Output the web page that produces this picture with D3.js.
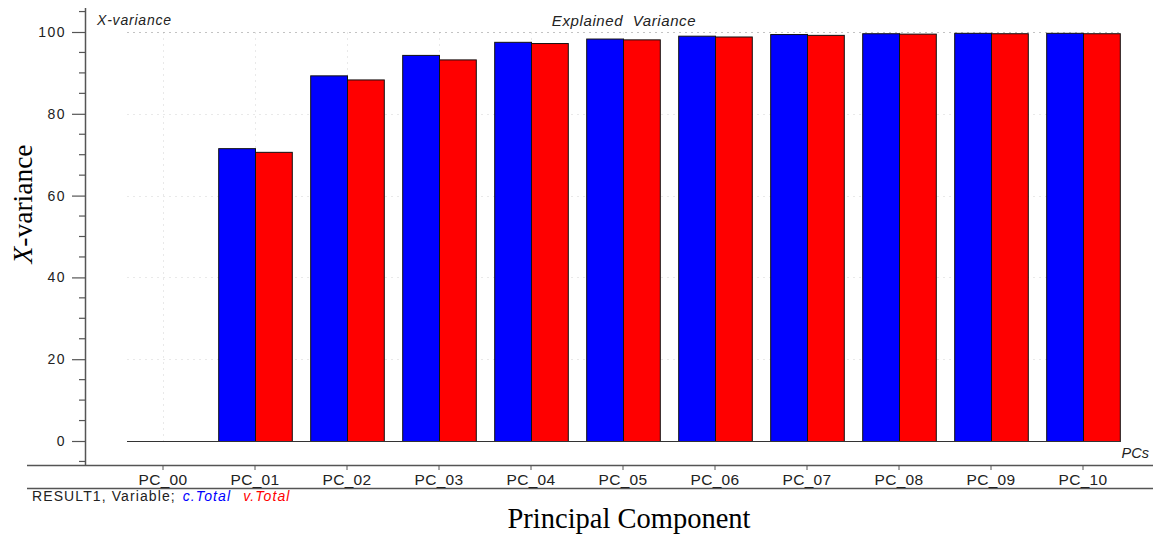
<!DOCTYPE html>
<html>
<head>
<meta charset="utf-8">
<script src="https://cdn.jsdelivr.net/npm/d3@7"></script>
<style>
  html, body { margin: 0; padding: 0; background: #fff; }
  svg { display: block; }
  text { white-space: pre; }
</style>
</head>
<body>
<svg id="chart" width="1153" height="537"></svg>
<script>
// Cumulative explained X-variance (%) per principal component
const categories = ["PC_00", "PC_01", "PC_02", "PC_03", "PC_04", "PC_05",
                    "PC_06", "PC_07", "PC_08", "PC_09", "PC_10"];
const seriesNames = ["c.Total", "v.Total"];
const calTotal = [0, 71.6, 89.4, 94.4, 97.6, 98.4, 99.1, 99.5, 99.7, 99.8, 99.8];
const valTotal = [0, 70.7, 88.4, 93.3, 97.3, 98.2, 98.9, 99.3, 99.6, 99.7, 99.7];
const yTicks = [0, 20, 40, 60, 80, 100];
const yMinorTicks = [-5, 5, 10, 15, 25, 30, 35, 45, 50, 55, 65, 70, 75, 85, 90, 95, 105];

const colors = { "c.Total": "#0000ff", "v.Total": "#ff0000" };
const sans = "'Liberation Sans', Arial, sans-serif";
const serif = "'Liberation Serif', 'Times New Roman', serif";

const svg = d3.select("#chart");

const x = d3.scaleBand().domain(categories).range([117, 1129])
  .paddingInner(0.2).paddingOuter(0.1);
const xs = d3.scaleBand().domain(seriesNames).range([0, x.bandwidth()]);
const y = d3.scaleLinear().domain([0, 100]).range([441, 32]);

const rows = categories.map((c, i) => ({ cat: c, vals: [
  { key: "c.Total", v: calTotal[i] }, { key: "v.Total", v: valTotal[i] }] }));

// faint dotted grid
const grid = svg.append("g").attr("stroke", "#aaa").attr("stroke-dasharray", "2,4")
  .attr("stroke-width", 1);
grid.selectAll("line.h").data(yTicks.filter(d => d > 0)).join("line")
  .attr("x1", x.range()[0] + 10).attr("x2", x.range()[1] - 10)
  .attr("y1", d => Math.round(y(d)) + 0.5).attr("y2", d => Math.round(y(d)) + 0.5)
  .attr("opacity", d => d === 100 ? 0.7 : 0.25);
grid.selectAll("line.v").data(categories).join("line")
  .attr("x1", d => Math.round(x(d) + x.bandwidth() / 2) + 0.5)
  .attr("x2", d => Math.round(x(d) + x.bandwidth() / 2) + 0.5)
  .attr("y1", y(100)).attr("y2", y(0))
  .attr("opacity", 0.25);

// bars
svg.append("g").selectAll("g").data(rows).join("g")
  .attr("transform", d => `translate(${x(d.cat)},0)`)
  .selectAll("rect").data(d => d.vals.filter(e => e.v > 0)).join("rect")
  .attr("x", d => xs(d.key) + 0.5)
  .attr("y", d => y(d.v) + 0.5)
  .attr("width", xs.bandwidth())
  .attr("height", d => y(0) - y(d.v))
  .attr("fill", d => colors[d.key])
  .attr("stroke", "#111").attr("stroke-width", 1);

// zero line
svg.append("line")
  .attr("x1", x.range()[0] + 10).attr("x2", x.range()[1] - 9)
  .attr("y1", y(0) + 0.5).attr("y2", y(0) + 0.5)
  .attr("stroke", "#333").attr("stroke-width", 1.2);

// y axis
const yAxisX = 85;
const yAx = svg.append("g").attr("transform", `translate(${yAxisX},0)`);
yAx.call(d3.axisLeft(y).tickValues(yTicks).tickSize(13).tickPadding(6).tickFormat(d3.format("d")));
yAx.select(".domain").remove();
yAx.selectAll(".tick line").attr("stroke", "#555").attr("stroke-width", 1.2);
yAx.selectAll(".tick text").attr("fill", "#222").style("font-family", sans)
  .style("font-size", "14px").style("letter-spacing", "1.5px");
yAx.selectAll("line.minor").data(yMinorTicks).join("line").attr("class", "minor")
  .attr("x1", -6).attr("x2", 0)
  .attr("y1", d => y(d)).attr("y2", d => y(d))
  .attr("stroke", "#555").attr("stroke-width", 1.2);
yAx.append("line").attr("x1", 0.5).attr("x2", 0.5)
  .attr("y1", 8).attr("y2", 465).attr("stroke", "#555").attr("stroke-width", 1.5);

// x axis band: top and bottom rule with category ticks
svg.append("line").attr("x1", 27).attr("x2", 1153).attr("y1", 465.5).attr("y2", 465.5)
  .attr("stroke", "#555").attr("stroke-width", 1.4);
svg.append("line").attr("x1", 27).attr("x2", 1153).attr("y1", 488.5).attr("y2", 488.5)
  .attr("stroke", "#555").attr("stroke-width", 1.4);
const xAx = svg.append("g").attr("transform", "translate(0,465)");
xAx.call(d3.axisBottom(x).tickSize(5).tickPadding(4));
xAx.select(".domain").remove();
xAx.selectAll(".tick line").attr("stroke", "#555");
xAx.selectAll(".tick text").attr("fill", "#222").style("font-family", sans)
  .style("font-size", "15.5px").style("letter-spacing", "0.3px");

// in-plot captions
svg.append("text").attr("x", 97).attr("y", 25).text("X-variance")
  .style("font-family", sans).style("font-style", "italic").style("font-size", "14px")
  .style("letter-spacing", "0.8px").attr("fill", "#222");
svg.append("text").attr("x", 624).attr("y", 26).attr("text-anchor", "middle").text("Explained  Variance")
  .style("font-family", sans).style("font-style", "italic").style("font-size", "15px")
  .style("letter-spacing", "0.6px").attr("fill", "#222");
svg.append("text").attr("x", 1149).attr("y", 458).attr("text-anchor", "end").text("PCs")
  .style("font-family", sans).style("font-style", "italic").style("font-size", "14.5px").attr("fill", "#222");

// series legend line
const leg = svg.append("text").attr("x", 32).attr("y", 501)
  .style("font-family", sans).style("font-size", "14px").style("letter-spacing", "1.1px").attr("fill", "#222");
leg.append("tspan").text("RESULT1, Variable;");
seriesNames.forEach((s, i) => {
  leg.append("tspan").text(" " + s).attr("dx", i === 0 ? 2 : 7)
    .attr("fill", colors[s]).style("font-style", "italic");
});

// axis titles
const yt = svg.append("text").attr("transform", "translate(32,204) rotate(-90)")
  .attr("text-anchor", "middle").style("font-family", serif).style("font-size", "27.5px").attr("fill", "#000");
yt.append("tspan").text("X").style("font-style", "italic");
yt.append("tspan").text("-variance");
svg.append("text").attr("x", 629).attr("y", 528).attr("text-anchor", "middle")
  .text("Principal Component").style("font-family", serif).style("font-size", "28.5px").attr("fill", "#000");
</script>
</body>
</html>
